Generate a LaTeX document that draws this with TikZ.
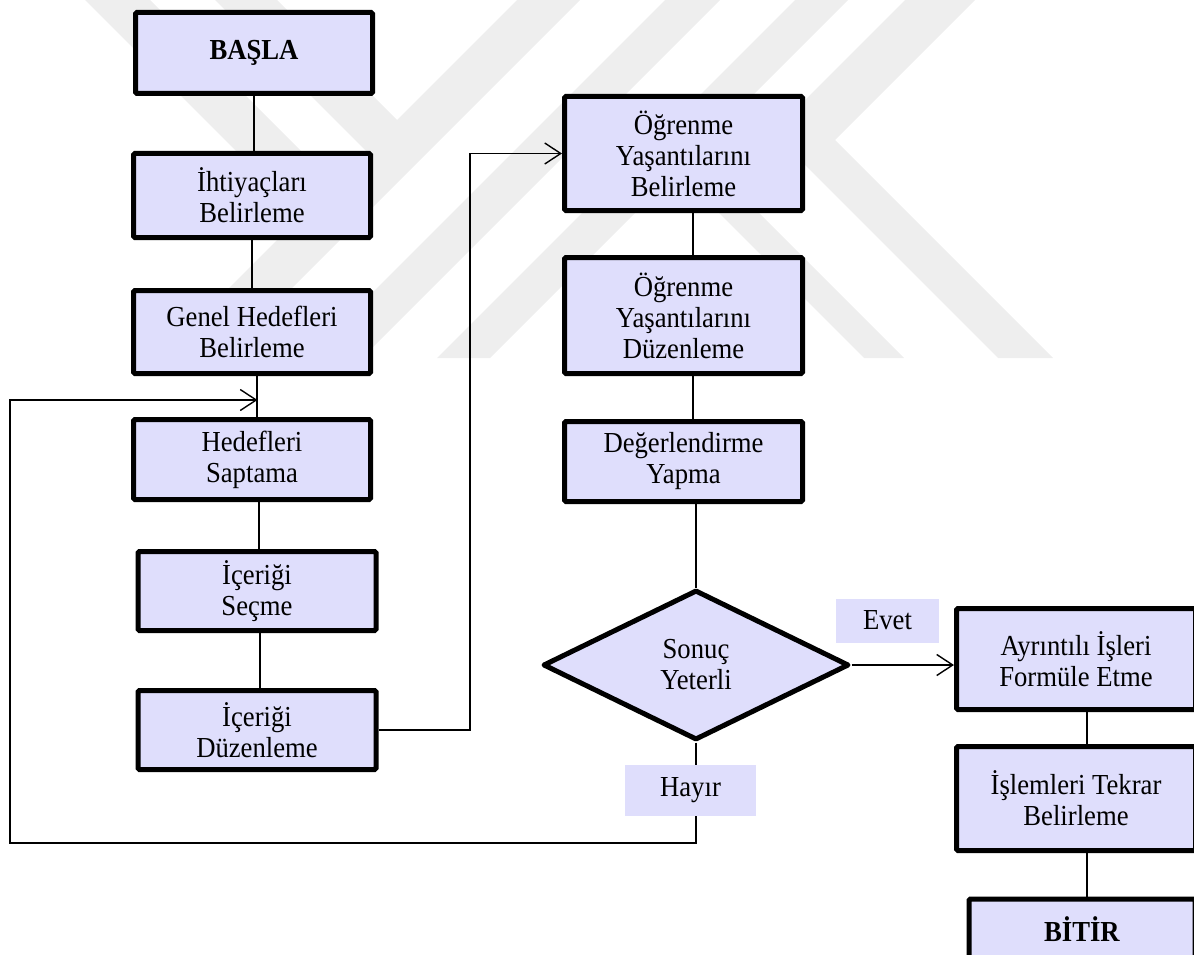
\documentclass[tikz,border=0pt]{standalone}
\usepackage{fontspec}
\setmainfont[FakeStretch=0.92]{Liberation Serif}
\usetikzlibrary{arrows.meta,shapes.geometric}
\definecolor{boxfill}{RGB}{223,222,252}
\definecolor{markgray}{RGB}{238,238,238}
\begin{document}
\begin{tikzpicture}[x=1pt,y=-1pt,
  every node/.style={font=\fontsize{29}{31}\selectfont,align=center,inner sep=0pt},
  box/.style={draw=black,line width=5pt,fill=boxfill,rounded corners=1.5pt},
  decision/.style={diamond,draw=black,line width=5pt,fill=boxfill,line join=round},
  tag/.style={fill=boxfill},
  conn/.style={draw=black,line width=1.4pt},
  arr/.style={conn,-{Straight Barb[length=16pt,width=21pt]}},
  band/.style={fill=markgray,draw=none}]
\useasboundingbox (0,0) rectangle (1194,955);
\clip (0,0) rectangle (1194,955);

% faint background emblem made of diagonal bands
\fill[band] (517,0) -- (580,0) -- (222,358) -- (159,358) -- (366,151) -- (215,0)
  -- (277,0) -- (397,120) -- cycle;
\fill[band] (85,0) -- (150,0) -- (333.5,183.5) -- (301,216) -- cycle;
\fill[band] (665,0) -- (720,0) -- (362,358) -- (307,358) -- cycle;
\fill[band] (795,0) -- (848,0) -- (490,358) -- (437,358) -- cycle;
\fill[band] (656,150) -- (696,150) -- (904,358) -- (864,358) -- cycle;
\fill[band] (905,0) -- (975,0) -- (835,140) -- (1053,358) -- (998,358) -- (772.5,132.5) -- cycle;

% left column
\node[box,minimum width=237pt,minimum height=81pt] (basla) at (254,53) {\textbf{BAŞLA}};
\node[box,minimum width=237pt,minimum height=84pt] (ihtiyac) at (252,195.5) {İhtiyaçları\\Belirleme};
\node[box,minimum width=237pt,minimum height=83pt] (genel) at (252,332) {Genel Hedefleri\\Belirleme};
\node[box,minimum width=237pt,minimum height=80pt] (saptama) at (252,459.5) {Hedefleri\\Saptama};
\node[box,minimum width=238pt,minimum height=79pt] (secme) at (257,591) {İçeriği\\Seçme};
\node[box,minimum width=238pt,minimum height=79pt] (duzen) at (257,730) {İçeriği\\Düzenleme};

% middle column
\node[box,minimum width=238pt,minimum height=114pt] (ogr1) at (683.5,153.5) {Öğrenme\\Yaşantılarını\\Belirleme};
\node[box,minimum width=238pt,minimum height=116pt] (ogr2) at (683.5,315.5) {Öğrenme\\Yaşantılarını\\Düzenleme};
\node[box,minimum width=238pt,minimum height=80pt] (degr) at (683.5,461.5) {Değerlendirme\\Yapma};
\node[decision,minimum width=306pt,minimum height=150pt] (sonuc) at (696,665) {Sonuç\\Yeterli};

% right column
\node[box,minimum width=239pt,minimum height=101pt] (ayrinti) at (1076,659) {Ayrıntılı İşleri\\Formüle Etme};
\node[box,minimum width=239pt,minimum height=104pt] (islem) at (1076,798.5) {İşlemleri Tekrar\\Belirleme};
\node[box,minimum width=226pt,minimum height=60pt] (bitir) at (1082,929) {\textbf{BİTİR}};

% connectors
\draw[conn] (basla.south) -- (basla.south |- ihtiyac.north);
\draw[conn] (ihtiyac.south) -- (ihtiyac.south |- genel.north);
\draw[conn] ([xshift=5pt]genel.south) -- ([xshift=5pt]genel.south |- saptama.north);
\draw[conn] ([xshift=7pt]saptama.south) -- ([xshift=7pt]saptama.south |- secme.north);
\draw[conn] ([xshift=3pt]secme.south) -- ([xshift=3pt]secme.south |- duzen.north);

\coordinate (jog) at (470,440);
\draw[arr] (duzen.east) -| (jog) |- (ogr1.west);

\draw[conn] ([xshift=9.5pt]ogr1.south) -- ([xshift=9.5pt]ogr1.south |- ogr2.north);
\draw[conn] ([xshift=9.5pt]ogr2.south) -- ([xshift=9.5pt]ogr2.south |- degr.north);
\draw[conn] (sonuc.north |- degr.south) -- (sonuc.north);

\draw[arr] (sonuc.east) -- (sonuc.east -| ayrinti.west);
\draw[conn] ([xshift=11pt]ayrinti.south) -- ([xshift=11pt]ayrinti.south |- islem.north);
\draw[conn] ([xshift=11pt]islem.south) -- ([xshift=11pt]islem.south |- bitir.north);

% return loop when the result is not sufficient
\coordinate (loopR) at (696,843);
\coordinate (loopL) at (10,843);
\coordinate (loopT) at (10,400);
\coordinate (loopEnd) at (257.5,400);
\draw[arr] (sonuc.south) -- (loopR) -- (loopL) -- (loopT) -- (loopEnd);

% answer tags
\node[tag,minimum width=103pt,minimum height=44pt] (evet) at (887.5,620.5) {Evet};
\node[tag,minimum width=131pt,minimum height=51pt] (hayir) at (690.5,790.5) {Hayır};
\end{tikzpicture}
\end{document}
